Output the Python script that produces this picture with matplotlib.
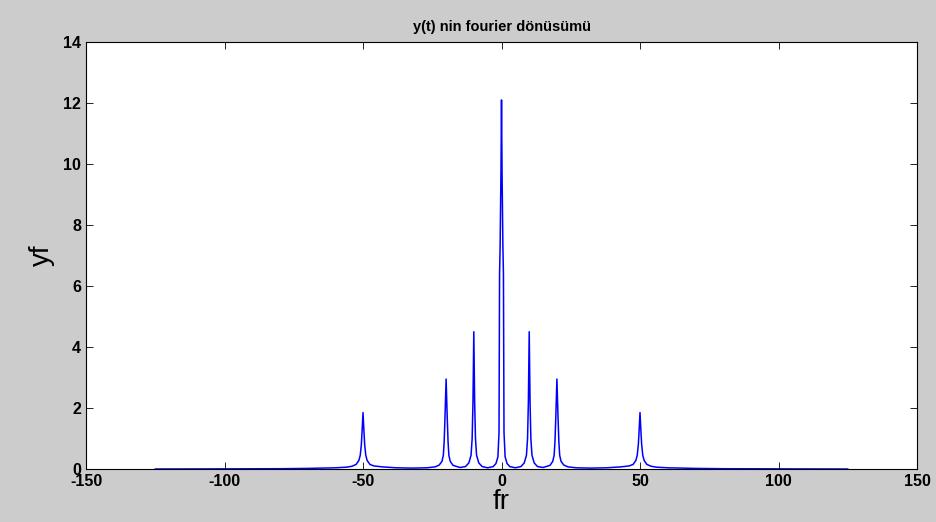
import numpy as np
import matplotlib.pyplot as plt

# spectrum (fr, yf)
fr = [-125, -100, -80, -70, -60, -56, -54, -52.5, -51.5, -51, -50.6, -50.3, -50,
      -49.7, -49.4, -49, -48.5, -47.5, -46, -43, -38, -32, -27, -24, -22.5, -21.5,
      -21, -20.7, -20.4, -20, -19.6, -19.3, -19, -18.5, -17.5, -15, -13, -11.8, -11,
      -10.6, -10.3, -10, -9.7, -9.4, -9, -8.2, -7, -5, -3, -2, -1.3, -0.9, -0.7,
      -0.5, -0.2, 0,
      0.2, 0.5, 0.7, 0.9, 1.3, 2, 3, 5, 7, 8.2, 9, 9.4, 9.7, 10, 10.3, 10.6, 11,
      11.8, 13, 15, 17.5, 18.5, 19, 19.3, 19.6, 20, 20.4, 20.7, 21, 21.5, 22.5, 24,
      27, 32, 38, 43, 46, 47.5, 48.5, 49, 49.4, 49.7, 50, 50.3, 50.6, 51, 51.5,
      52.5, 54, 56, 60, 70, 80, 100, 125]
yf = [0.0, 0.005, 0.01, 0.02, 0.04, 0.06, 0.09, 0.15, 0.28, 0.45, 0.8, 1.3, 1.85,
      1.3, 0.8, 0.45, 0.28, 0.15, 0.1, 0.07, 0.04, 0.03, 0.04, 0.07, 0.13, 0.25,
      0.45, 0.9, 1.7, 2.95, 1.7, 0.9, 0.45, 0.25, 0.12, 0.05, 0.08, 0.2, 0.45,
      1.0, 2.2, 4.5, 2.2, 1.0, 0.45, 0.2, 0.08, 0.04, 0.08, 0.18, 0.4, 1.2, 6.4,
      7.3, 9.7, 12.1,
      9.7, 7.3, 6.4, 1.2, 0.4, 0.18, 0.08, 0.04, 0.08, 0.2, 0.45, 1.0, 2.2, 4.5,
      2.2, 1.0, 0.45, 0.2, 0.08, 0.05, 0.12, 0.25, 0.45, 0.9, 1.7, 2.95, 1.7, 0.9,
      0.45, 0.25, 0.13, 0.07, 0.04, 0.03, 0.04, 0.07, 0.1, 0.15, 0.28, 0.45, 0.8,
      1.3, 1.85, 1.3, 0.8, 0.45, 0.28, 0.15, 0.09, 0.06, 0.04, 0.02, 0.01, 0.005,
      0.0]

xticks = [-150, -100, -50, 0, 50, 100, 150]
yticks = [0, 2, 4, 6, 8, 10, 12, 14]

plt.rcParams['font.family'] = ['Liberation Sans', 'DejaVu Sans']
plt.rcParams['axes.unicode_minus'] = False

fig = plt.figure(figsize=(9.36, 5.22), dpi=100, facecolor='#cccccc')
ax = fig.add_axes([0.0919, 0.1015, 0.8878, 0.818])
ax.plot(fr, yf, color='#0000ff', lw=1.1)

ax.set_xlim(-150, 150)
ax.set_ylim(0, 14)
ax.set_xticks(xticks)
ax.set_yticks(yticks)
ax.tick_params(direction='in', top=True, right=True, length=5, width=0.6,
               labelsize=11.5)
for lab in ax.get_xticklabels() + ax.get_yticklabels():
    lab.set_fontweight('bold')
for s in ax.spines.values():
    s.set_linewidth(0.8)

ax.set_title('y(t) nin fourier dönüsümü', fontsize=10.5, fontweight='bold', pad=8)
ax.set_xlabel('fr', fontsize=20, labelpad=0)
ax.set_ylabel('yf', fontsize=20, labelpad=6)

fig.savefig('out.png', dpi=100, facecolor=fig.get_facecolor())
